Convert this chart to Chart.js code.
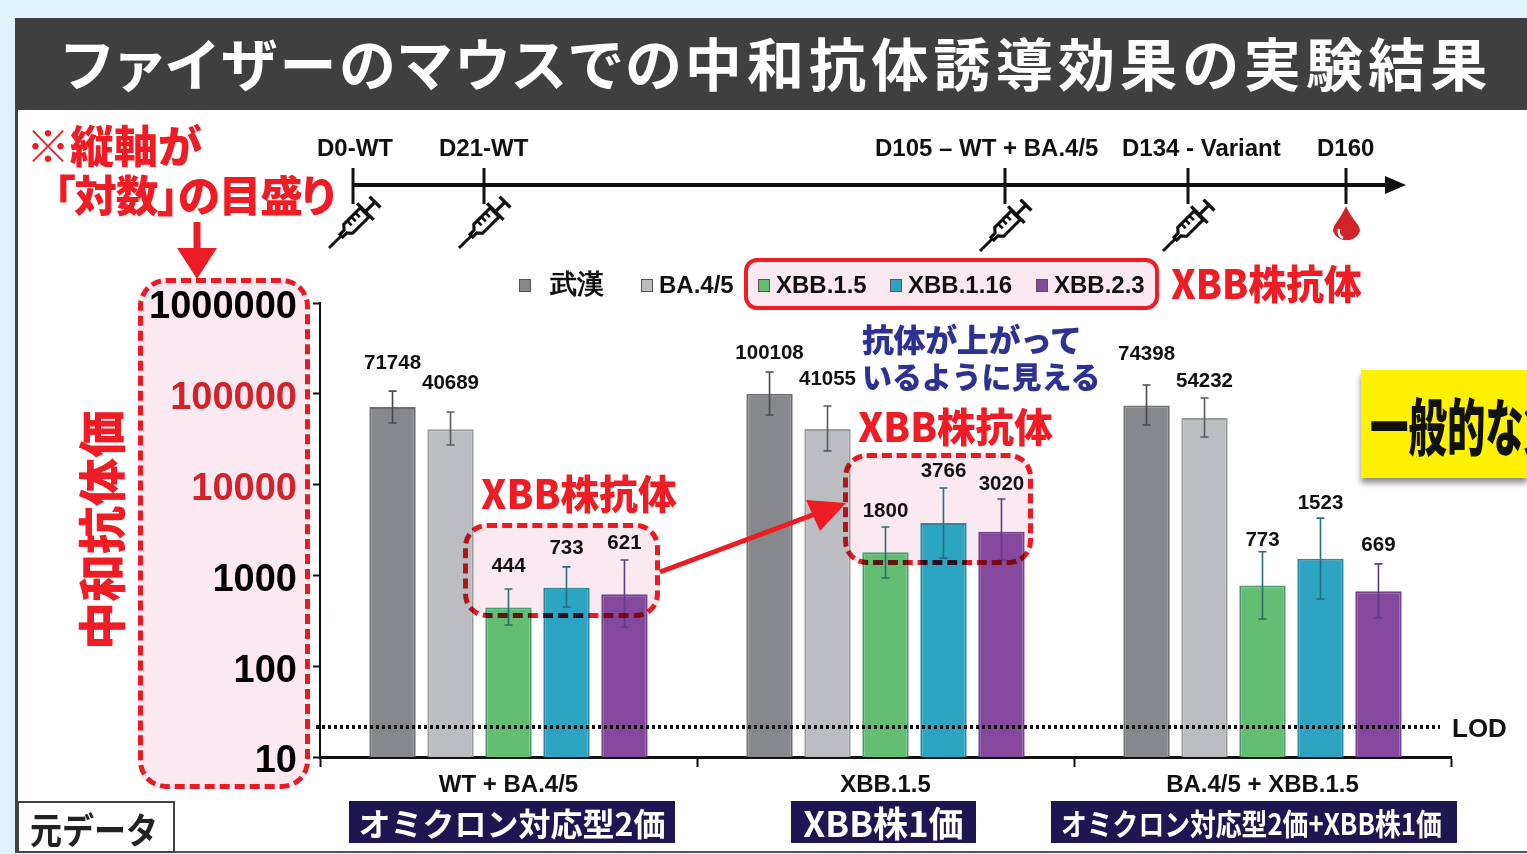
<!DOCTYPE html>
<html lang="ja">
<head>
<meta charset="utf-8">
<title>ファイザーのマウスでの中和抗体誘導効果の実験結果</title>
<script src="https://cdn.jsdelivr.net/npm/chart.js@4/dist/chart.umd.min.js"></script>
<style>
  html, body { margin: 0; padding: 0; }
  body {
    width: 1527px; height: 854px; position: relative; overflow: hidden;
    background: #dff3fc;
    font-family: "Noto Sans CJK JP", sans-serif;
  }
  .abs { position: absolute; white-space: nowrap; line-height: 1; }
  .sq { display: inline-block; transform-origin: 0 50%; }
  #panel { left: 15px; top: 18px; width: 1512px; height: 835px; background: #fff; border-left: 3px solid #444; border-bottom: 2px solid #555; box-sizing: border-box; }
  #title { left: 15px; top: 18px; width: 1512px; height: 92px; background: #3f3f3f; color: #fff; font-weight: 700; font-size: 57px; line-height: 87px; letter-spacing: 3.5px; padding-left: 47px; box-sizing: border-box; font-feature-settings: "palt"; }
  #title span { letter-spacing: 5.2px; }
  #chart-wrap { left: 0; top: 0; width: 1527px; height: 854px; z-index: 2; }
  .pink { background: #fbe9f1; z-index: 1; }
  .dash { border: 5px dashed #ee1c25; border-radius: 28px; box-sizing: border-box; z-index: 3; mix-blend-mode: multiply; }
  .red { color: #ee1c25; font-weight: 900; z-index: 4; }
  .blue { color: #2e3192; font-weight: 900; z-index: 4; }
  .navy { background: #1d1650; color: #fff; font-weight: 700; text-align: center; z-index: 4; height: 42px; line-height: 42px; }
  #legend-box { left: 744px; top: 258px; width: 415px; height: 52px; border: 4px solid #ee1c25; border-radius: 13px; background: #fbe9f1; box-sizing: border-box; z-index: 1; }
  .lg { z-index: 4; font: 700 24px "Liberation Sans", sans-serif; color: #111; }
  .lg i { position: absolute; left: 0; width: 12px; height: 13px; border: 1.5px solid #555; box-sizing: border-box; }
  .tl { z-index: 4; font: 700 24px "Liberation Sans", sans-serif; color: #111; }
  #yellow { left: 1361px; top: 370px; width: 166px; height: 108px; background: #fff200; box-shadow: 0 5px 6px rgba(0,0,0,.45); z-index: 4; overflow: hidden; }
  #yellow span { position: absolute; left: 9px; top: 23px; font-size: 62px; font-weight: 900; color: #111; white-space: nowrap; line-height: 1; transform-origin: 0 0; transform: scaleX(.62); }
  #moto { left: 17px; top: 801px; width: 158px; height: 52px; background: #fff; border: 2px solid #444; box-sizing: border-box; font-size: 36px; font-weight: 700; line-height: 50px; color: #222; z-index: 4; padding-left: 11px; }
  svg.overlay { position: absolute; left: 0; top: 0; z-index: 4; pointer-events: none; }
</style>
</head>
<body>
<div id="panel" class="abs"></div>
<div id="title" class="abs">ファイザーのマウスでの<span>中和抗体誘導効果の実験結果</span></div>

<div class="abs pink" style="left:138px;top:278px;width:172px;height:511px;border-radius:28px"></div>
<div class="abs pink" style="left:463px;top:523px;width:197px;height:95px;border-radius:24px"></div>
<div class="abs pink" style="left:843px;top:453px;width:190px;height:112px;border-radius:24px"></div>
<div id="legend-box" class="abs"></div>

<div id="chart-wrap" class="abs"><canvas id="chart" width="1527" height="854"></canvas></div>

<div class="abs dash" style="left:138px;top:278px;width:172px;height:511px"></div>
<div class="abs dash" style="left:463px;top:523px;width:197px;height:95px;border-radius:24px"></div>
<div class="abs dash" style="left:843px;top:453px;width:190px;height:112px;border-radius:24px"></div>

<div class="abs red" style="left:26px;top:122px;font-size:44px">※縦軸が</div>
<div class="abs red" style="left:54px;top:172px;font-size:43px;font-feature-settings:'palt';letter-spacing:-1px;transform-origin:0 0;transform:scaleX(.99)">「対数」の目盛り</div>
<div class="abs red" style="left:75px;top:650px;font-size:48px;transform-origin:0 0;transform:rotate(-90deg)">中和抗体価</div>
<div class="abs red" style="left:1171px;top:262px;font-size:40px;transform-origin:0 0;transform:scaleX(.945)">XBB株抗体</div>
<div class="abs red" style="left:858px;top:405px;font-size:40px;transform-origin:0 0;transform:scaleX(.965)">XBB株抗体</div>
<div class="abs red" style="left:481px;top:472px;font-size:40px;transform-origin:0 0;transform:scaleX(.97)">XBB株抗体</div>
<div class="abs blue" style="left:862px;top:322px;font-size:32px;letter-spacing:-.4px">抗体が上がって</div>
<div class="abs blue" style="left:862px;top:360px;font-size:30px;letter-spacing:-.1px">いるように見える</div>

<div class="abs tl" style="left:317px;top:134px">D0-WT</div>
<div class="abs tl" style="left:439px;top:134px">D21-WT</div>
<div class="abs tl" style="left:875px;top:134px">D105 – WT + BA.4/5</div>
<div class="abs tl" style="left:1122px;top:134px">D134 - Variant</div>
<div class="abs tl" style="left:1317px;top:134px">D160</div>

<div id="legend"></div>

<div id="yellow" class="abs"><span>一般的な免疫</span></div>
<div id="moto" class="abs"><span class="sq" style="transform:scaleX(.89)">元データ</span></div>
<div class="abs navy" style="left:349px;top:801px;width:326px;font-size:32px">オミクロン対応型2価</div>
<div class="abs navy" style="left:791px;top:801px;width:185px;font-size:35px">XBB株1価</div>
<div class="abs navy" style="left:1051px;top:801px;width:406px;font-size:30px;text-align:left"><span class="sq" style="margin-left:10px;transform:scaleX(.86)">オミクロン対応型2価+XBB株1価</span></div>

<svg class="overlay" width="1527" height="854" viewBox="0 0 1527 854">
  <defs>
    <g id="syringe" fill="none" stroke="#111">
      <path d="M0 0 H18" stroke-width="3"/>
      <path d="M18 -2 H24 L28 -6.5 H52 V6.5 H28 L24 2 H18 Z" fill="#fff" stroke-width="3.2"/>
      <path d="M33 -6 V0 M39 -6 V0 M45 -6 V0" stroke-width="2.6"/>
      <path d="M53 -12 V12" stroke-width="3.4"/>
      <path d="M53 0 H67" stroke-width="3.4"/>
      <path d="M67 -8 V8" stroke-width="3.4"/>
    </g>
  </defs>
  <path d="M353 185 H1388" stroke="#111" stroke-width="4"/>
  <path d="M1385 176 L1406 185 L1385 194 Z" fill="#111"/>
  <path d="M353 168 V204 M484 168 V204 M1005 168 V204 M1188 168 V204 M1346 168 V204" stroke="#111" stroke-width="3"/>
  <use href="#syringe" transform="translate(329 248) rotate(-45) scale(.97)"/>
  <use href="#syringe" transform="translate(459 248) rotate(-45) scale(.97)"/>
  <use href="#syringe" transform="translate(980 251) rotate(-45) scale(.97)"/>
  <use href="#syringe" transform="translate(1163 251) rotate(-45) scale(.97)"/>
  <path d="M1346 206 C1352 220 1360 224 1360 231 A14 12.5 0 0 1 1333 231 C1333 224 1340 220 1346 206 Z" fill="#d2232a"/>
  <path d="M1339 229 C1338 234 1340 237 1343 238" stroke="#fff" stroke-width="2.4" fill="none"/>
  <path d="M197 222 V252" stroke="#ee1c25" stroke-width="7"/>
  <path d="M177 248 H217 L197 279 Z" fill="#ee1c25"/>
  <path d="M660 572 L815 514" stroke="#ee1c25" stroke-width="5"/>
  <path d="M806 500 L846 503 L820 531 Z" fill="#ee1c25"/>
</svg>

<script>
const groups = ["WT + BA.4/5", "XBB.1.5", "BA.4/5 + XBB.1.5"];
const seriesNames = ["武漢", "BA.4/5", "XBB.1.5", "XBB.1.16", "XBB.2.3"];

const wuhan = [71748, 100108, 74398];
const ba45 = [40689, 41055, 54232];
const xbb15 = [444, 1800, 773];
const xbb116 = [733, 3766, 1523];
const xbb23 = [621, 3020, 669];

const errHigh = [
  [107000, 174000, 125000],
  [63000, 73500, 90000],
  [708, 3410, 1820],
  [1240, 9180, 4270],
  [1480, 6940, 1340],
];
const errLow = [
  [47600, 58500, 45300],
  [27300, 23500, 33400],
  [284, 935, 331],
  [449, 1550, 550],
  [270, 1480, 339],
];
const yTicks = [10, 100, 1000, 10000, 100000, 1000000];
const redTicks = [10000, 100000];
const lod = 21.4;

// bar colours, same order as seriesNames
const fills = ["#87888b", "#bcbdc0", "#63bd73", "#2ca4c2", "#84489c"];
const edges = ["#6d6e70", "#9a9b9d", "#4b9a70", "#2a88a4", "#74428f"];
const whisker = ["#4a4a4c", "#5a5a5c", "#2c6f66", "#266f80", "#5f3c86"];

// how far each value label sits above its whisker, px
const labelLift = [
  [18, 8, 20],
  [18, 16, 6],
  [12, 5, 1],
  [8, 6, 5],
  [6, 4, 8],
];

const legendX = [519, 641, 758, 890, 1036];
const legendTop = [266, 271, 271, 271, 271];
const legendGap = [31, 18, 18, 18, 18];
const legendSize = [27, 24, 24, 24, 24];

const errorBars = {
  id: "errorBars",
  afterDatasetsDraw(chart) {
    const { ctx, scales: { y } } = chart;
    ctx.save();
    chart.data.datasets.forEach((ds, i) => {
      chart.getDatasetMeta(i).data.forEach((bar, j) => {
        const top = y.getPixelForValue(errHigh[i][j]);
        const bot = y.getPixelForValue(errLow[i][j]);
        ctx.strokeStyle = whisker[i];
        ctx.lineWidth = 1.6;
        ctx.beginPath();
        ctx.moveTo(bar.x, top);
        ctx.lineTo(bar.x, bot);
        ctx.moveTo(bar.x - 4, top);
        ctx.lineTo(bar.x + 4, top);
        ctx.moveTo(bar.x - 4, bot);
        ctx.lineTo(bar.x + 4, bot);
        ctx.stroke();

        ctx.fillStyle = "#111";
        ctx.font = '700 20.5px "Liberation Sans"';
        ctx.textAlign = "center";
        ctx.textBaseline = "bottom";
        ctx.fillText(ds.data[j], bar.x, top - labelLift[i][j]);
      });
    });
    ctx.restore();
  },
};

const lodLine = {
  id: "lodLine",
  afterDatasetsDraw(chart) {
    const { ctx, chartArea, scales: { y } } = chart;
    const py = y.getPixelForValue(lod);
    ctx.save();
    ctx.strokeStyle = "#111";
    ctx.lineWidth = 4;
    ctx.setLineDash([3, 3]);
    ctx.beginPath();
    ctx.moveTo(chartArea.left - 4, py);
    ctx.lineTo(chartArea.right - 11, py);
    ctx.stroke();
    ctx.setLineDash([]);
    ctx.fillStyle = "#111";
    ctx.font = '700 26px "Liberation Sans"';
    ctx.textAlign = "left";
    ctx.textBaseline = "middle";
    ctx.fillText("LOD", chartArea.right + 1, py + 3);
    ctx.restore();
  },
};

seriesNames.forEach((name, i) => {
  const el = document.createElement("div");
  el.className = "abs lg";
  el.style.left = legendX[i] + "px";
  el.style.top = legendTop[i] + "px";
  el.style.paddingLeft = legendGap[i] + "px";
  el.style.fontSize = legendSize[i] + "px";
  // keep all the swatches on one line whatever the text size
  el.innerHTML = '<i style="top:' + (279 - legendTop[i]) + 'px;background:' + fills[i] + '"></i>' + name;
  document.getElementById("legend").appendChild(el);
});

const seriesValues = [wuhan, ba45, xbb15, xbb116, xbb23];

new Chart(document.getElementById("chart").getContext("2d"), {
  type: "bar",
  data: {
    labels: groups,
    datasets: seriesNames.map((name, i) => ({
      label: name,
      data: seriesValues[i],
      backgroundColor: fills[i],
      borderColor: edges[i],
      borderWidth: 2,
      categoryPercentage: 0.769,
      barPercentage: 0.8,
    })),
  },
  options: {
    responsive: false,
    animation: false,
    layout: { padding: { top: 303, right: 76, left: 0, bottom: 0 } },
    plugins: { legend: { display: false }, tooltip: { enabled: false } },
    scales: {
      x: {
        afterFit: (scale) => { scale.height = 97; },
        grid: { offset: true, drawOnChartArea: false, color: "#111", tickLength: 10, tickWidth: 2 },
        border: { color: "#111", width: 3 },
        ticks: {
          color: "#111",
          padding: 4,
          maxRotation: 0,
          font: { family: "Liberation Sans", weight: "700", size: 24 },
        },
      },
      y: {
        type: "logarithmic",
        min: 10,
        max: 1000000,
        afterFit: (scale) => { scale.width = 320; },
        afterBuildTicks: (scale) => { scale.ticks = yTicks.map((v) => ({ value: v })); },
        grid: { drawOnChartArea: false, color: "#111", tickLength: 7, tickWidth: 2 },
        border: { color: "#111", width: 2 },
        ticks: {
          padding: 16,
          autoSkip: false,
          labelOffset: 5,
          callback: (v) => String(v),
          color: (c) => (redTicks.includes(c.tick.value) ? "#d2232a" : "#000"),
          font: { family: "Liberation Sans", weight: "700", size: 38 },
        },
      },
    },
  },
  plugins: [errorBars, lodLine],
});
</script>
</body>
</html>
